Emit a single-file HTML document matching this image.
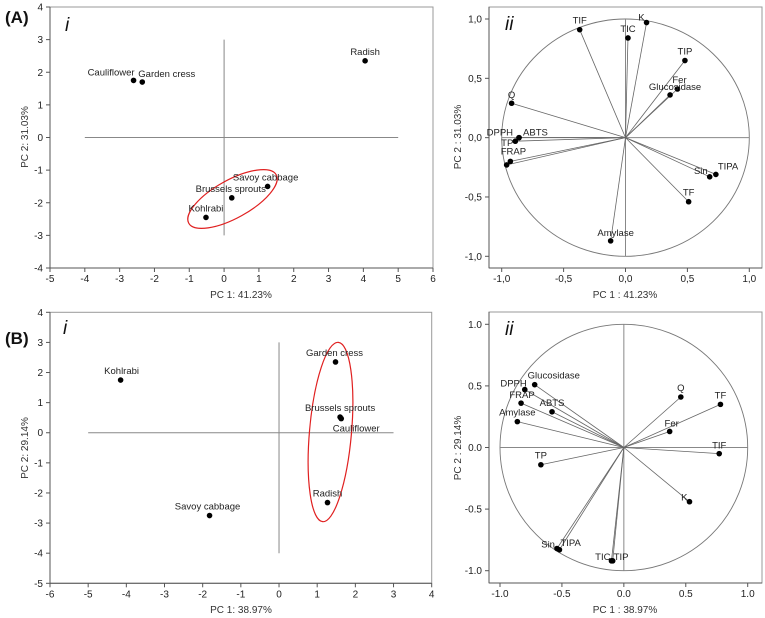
<!DOCTYPE html>
<html><head><meta charset="utf-8"><style>
html,body{margin:0;padding:0;background:#fff;}
svg{display:block;font-family:"Liberation Sans",Arial,sans-serif;}
</style></head><body>
<svg id="fig" width="765" height="618" viewBox="0 0 765 618" xmlns="http://www.w3.org/2000/svg"></svg>
<script>
// ---- Panel A-i scores ----
const aiNames = ["Cauliflower","Garden cress","Radish","Savoy cabbage","Brussels sprouts","Kohlrabi"];
const aiX = [-2.6,-2.35,4.05,1.25,0.22,-0.52];
const aiY = [1.75,1.7,2.35,-1.5,-1.85,-2.45];
const aiXTicks = [-5,-4,-3,-2,-1,0,1,2,3,4,5,6];
const aiYTicks = [-4,-3,-2,-1,0,1,2,3,4];
// ---- Panel A-ii loadings ----
const aiiNames = ["TIF","TIC","K","TIP","Fer","Glucosidase","Q","ABTS","DPPH","TP","FRAP","","Sin","TIPA","TF","Amylase"];
const aiiX = [-0.37,0.02,0.17,0.48,0.42,0.36,-0.92,-0.86,-0.86,-0.89,-0.93,-0.96,0.68,0.73,0.51,-0.12];
const aiiY = [0.91,0.84,0.97,0.65,0.41,0.36,0.29,0.0,0.0,-0.03,-0.20,-0.23,-0.33,-0.31,-0.54,-0.87];
const aiiTicks = [-1.0,-0.5,0.0,0.5,1.0];
// ---- Panel B-i scores ----
const biNames = ["Kohlrabi","Garden cress","Brussels sprouts","Cauliflower","Radish","Savoy cabbage"];
const biX = [-4.15,1.48,1.6,1.63,1.27,-1.82];
const biY = [1.75,2.35,0.52,0.47,-2.32,-2.75];
const biXTicks = [-6,-5,-4,-3,-2,-1,0,1,2,3,4];
const biYTicks = [-5,-4,-3,-2,-1,0,1,2,3,4];
// ---- Panel B-ii loadings ----
const biiNames = ["Glucosidase","DPPH","FRAP","ABTS","Amylase","TP","Sin","TIPA","TIC","TIP","K","TIF","TF","Q","Fer"];
const biiX = [-0.72,-0.80,-0.83,-0.58,-0.86,-0.67,-0.54,-0.52,-0.10,-0.09,0.53,0.77,0.78,0.46,0.37];
const biiY = [0.51,0.47,0.36,0.29,0.21,-0.14,-0.82,-0.83,-0.92,-0.92,-0.44,-0.05,0.35,0.41,0.13];
const biiTicks = [-1.0,-0.5,0.0,0.5,1.0];

const NS="http://www.w3.org/2000/svg";
const svg=document.getElementById('fig');
function mk(tag,attrs,parent){const e=document.createElementNS(NS,tag);for(const k in attrs)e.setAttribute(k,attrs[k]);(parent||svg).appendChild(e);return e;}
function lin(d0,d1,p0,p1){return v=>p0+(v-d0)*(p1-p0)/(d1-d0);}

// label placement (styling): [anchor, dx, dy]
const aiLab={"Cauliflower":["end",1,-5],"Garden cress":["start",-4,-5],"Radish":["middle",0,-6],"Savoy cabbage":["middle",-2,-6],"Brussels sprouts":["middle",-1,-6],"Kohlrabi":["middle",0,-6]};
const aiiLab={"TIF":["middle",0,-6],"TIC":["middle",0,-6],"K":["end",-2,-2],"TIP":["middle",0,-6],"Fer":["middle",2,-6],"Glucosidase":["middle",5,-5],"Q":["middle",0,-5],"ABTS":["start",4,-2],"DPPH":["end",-6,-2],"TP":["end",-2,5],"FRAP":["middle",3,-7],"Sin":["end",-2,-3],"TIPA":["start",2,-5],"TF":["middle",0,-6],"Amylase":["middle",5,-5],"":["middle",0,0]};
const biLab={"Kohlrabi":["middle",1,-6],"Garden cress":["middle",-1,-6],"Brussels sprouts":["middle",0,-6],"Cauliflower":["middle",15,13],"Radish":["middle",0,-6],"Savoy cabbage":["middle",-2,-6]};
const biiLab={"Glucosidase":["start",-7,-6],"DPPH":["end",2,-3],"FRAP":["middle",1,-5],"ABTS":["middle",0,-6],"Amylase":["middle",0,-6],"TP":["middle",0,-6],"Sin":["end",-2,-1],"TIPA":["start",1,-4],"TIC":["end",-1,-1],"TIP":["start",1,-1],"K":["end",-2,-1],"TIF":["middle",0,-5],"TF":["middle",0,-6],"Q":["middle",0,-6],"Fer":["middle",2,-5]};

function frame(id,L,R,T,B,sx,sy,xt,yt,fmt){
  const g=mk('g',{});
  
  
  mk('rect',{x:L,y:T,width:R-L,height:B-T,fill:'none',stroke:'#9a9a9a','stroke-width':1},g);
  mk('line',{x1:L,y1:T,x2:L,y2:B,stroke:'#555','stroke-width':1},g);
  mk('line',{x1:L,y1:B,x2:R,y2:B,stroke:'#555','stroke-width':1},g);
  xt.forEach(v=>{const x=sx(v);
    mk('line',{x1:x,y1:B,x2:x,y2:B+4,stroke:'#555'},g);
    const t=mk('text',{x:x,y:B+14,'font-size':10,'text-anchor':'middle',fill:'#222'},g);t.textContent=fmt(v);
    
    
  });
  yt.forEach(v=>{const y=sy(v);
    mk('line',{x1:L-4,y1:y,x2:L,y2:y,stroke:'#555'},g);
    const t=mk('text',{x:L-7,y:y+3.5,'font-size':10,'text-anchor':'end',fill:'#222'},g);t.textContent=fmt(v);
    
    
  });
}
function title(txt,x,y,rot,name){
  const t=mk('text',{x:x,y:y,'font-size':10,'text-anchor':'middle',fill:'#333'});
  if(rot)t.setAttribute('transform','rotate(-90 '+x+' '+y+')');
  t.textContent=txt;
  
  
}
function points(names,xs,ys,sx,sy,lab,vec,prefix){
  if(vec){names.forEach((n,i)=>{
    const l=mk('line',{x1:sx(0),y1:sy(0),x2:sx(xs[i]),y2:sy(ys[i]),stroke:'#666','stroke-width':0.8});
    
    
  });}
  names.forEach((n,i)=>{
    const c=mk('circle',{cx:sx(xs[i]),cy:sy(ys[i]),r:2.8,fill:'#000'});
    
    
    if(!n)return;
    const p=lab[n]||["middle",0,-6];
    const t=mk('text',{x:sx(xs[i])+p[1],y:sy(ys[i])+p[2],'font-size':9.5,'text-anchor':p[0],fill:'#222'});
    t.textContent=n;
    
    
  });
}
function panelLabel(txt,x,y,size,style,weight,name){
  const t=mk('text',{x:x,y:y,'font-size':size,'font-style':style,'font-weight':weight,fill:'#111'});
  t.textContent=txt;
  
  
}
const intf=v=>String(v);

// ===== A-i =====
{const sx=lin(-5,6,50,433),sy=lin(4,-4,7,268);
 frame('a-i',50,433,7,268,sx,sy,aiXTicks,aiYTicks,intf);
 mk('line',{x1:sx(-4),y1:sy(0),x2:sx(5),y2:sy(0),stroke:'#888'});
 mk('line',{x1:sx(0),y1:sy(3),x2:sx(0),y2:sy(-3),stroke:'#888'});
 const e=mk('ellipse',{cx:232.5,cy:199,rx:50,ry:19,fill:'none',stroke:'#e02020','stroke-width':1.2,transform:'rotate(-29 232.5 199)'});
 
 
 points(aiNames,aiX,aiY,sx,sy,aiLab,false,'a-i-score');
 title('PC 1: 41.23%',241,298,false,'a-i-x-axis-title');
 title('PC 2: 31.03%',28,137,true,'a-i-y-axis-title');
 panelLabel('(A)',5,23,17,'normal','bold','panel-label-a');
 panelLabel('i',65,31,19,'italic','normal','panel-i-label-a');
}
// ===== A-ii =====
{const sx=lin(-1,1,501.7,749.3),sy=lin(1,-1,19,256.3);
 frame('a-ii',489,762,7,268,sx,sy,aiiTicks,aiiTicks,v=>v.toFixed(1).replace('.',','));
 mk('ellipse',{cx:sx(0),cy:sy(0),rx:sx(1)-sx(0),ry:sy(-1)-sy(0),fill:'none',stroke:'#777','stroke-width':0.9});
 mk('line',{x1:sx(-1),y1:sy(0),x2:sx(1),y2:sy(0),stroke:'#888'});
 mk('line',{x1:sx(0),y1:sy(1),x2:sx(0),y2:sy(-1),stroke:'#888'});
 points(aiiNames,aiiX,aiiY,sx,sy,aiiLab,true,'a-ii-loading');
 title('PC 1 : 41.23%',625,298,false,'a-ii-x-axis-title');
 title('PC 2 : 31.03%',461,137,true,'a-ii-y-axis-title');
 panelLabel('ii',505,30,19,'italic','normal','panel-ii-label-a');
}
// ===== B-i =====
{const sx=lin(-6,4,50,431.7),sy=lin(4,-5,312.3,583.3);
 frame('b-i',50,431.7,312.3,583.3,sx,sy,biXTicks,biYTicks,intf);
 mk('line',{x1:sx(-5),y1:sy(0),x2:sx(3),y2:sy(0),stroke:'#888'});
 mk('line',{x1:sx(0),y1:sy(3),x2:sx(0),y2:sy(-4),stroke:'#888'});
 const e=mk('ellipse',{cx:330.5,cy:432,rx:21,ry:90,fill:'none',stroke:'#e02020','stroke-width':1.2,transform:'rotate(5 330.5 432)'});
 
 
 points(biNames,biX,biY,sx,sy,biLab,false,'b-i-score');
 title('PC 1: 38.97%',241,613,false,'b-i-x-axis-title');
 title('PC 2: 29.14%',28,448,true,'b-i-y-axis-title');
 panelLabel('(B)',5,344,17,'normal','bold','panel-label-b');
 panelLabel('i',63,334,19,'italic','normal','panel-i-label-b');
}
// ===== B-ii =====
{const sx=lin(-1,1,500,747.7),sy=lin(1,-1,324.3,570.7);
 frame('b-ii',489,762,312,583,sx,sy,biiTicks,biiTicks,v=>v.toFixed(1));
 mk('ellipse',{cx:sx(0),cy:sy(0),rx:sx(1)-sx(0),ry:sy(-1)-sy(0),fill:'none',stroke:'#777','stroke-width':0.9});
 mk('line',{x1:sx(-1),y1:sy(0),x2:sx(1),y2:sy(0),stroke:'#888'});
 mk('line',{x1:sx(0),y1:sy(1),x2:sx(0),y2:sy(-1),stroke:'#888'});
 points(biiNames,biiX,biiY,sx,sy,biiLab,true,'b-ii-loading');
 title('PC 1 : 38.97%',625,613,false,'b-ii-x-axis-title');
 title('PC 2 : 29.14%',461,448,true,'b-ii-y-axis-title');
 panelLabel('ii',505,335,19,'italic','normal','panel-ii-label-b');
}
</script>
</body></html>
